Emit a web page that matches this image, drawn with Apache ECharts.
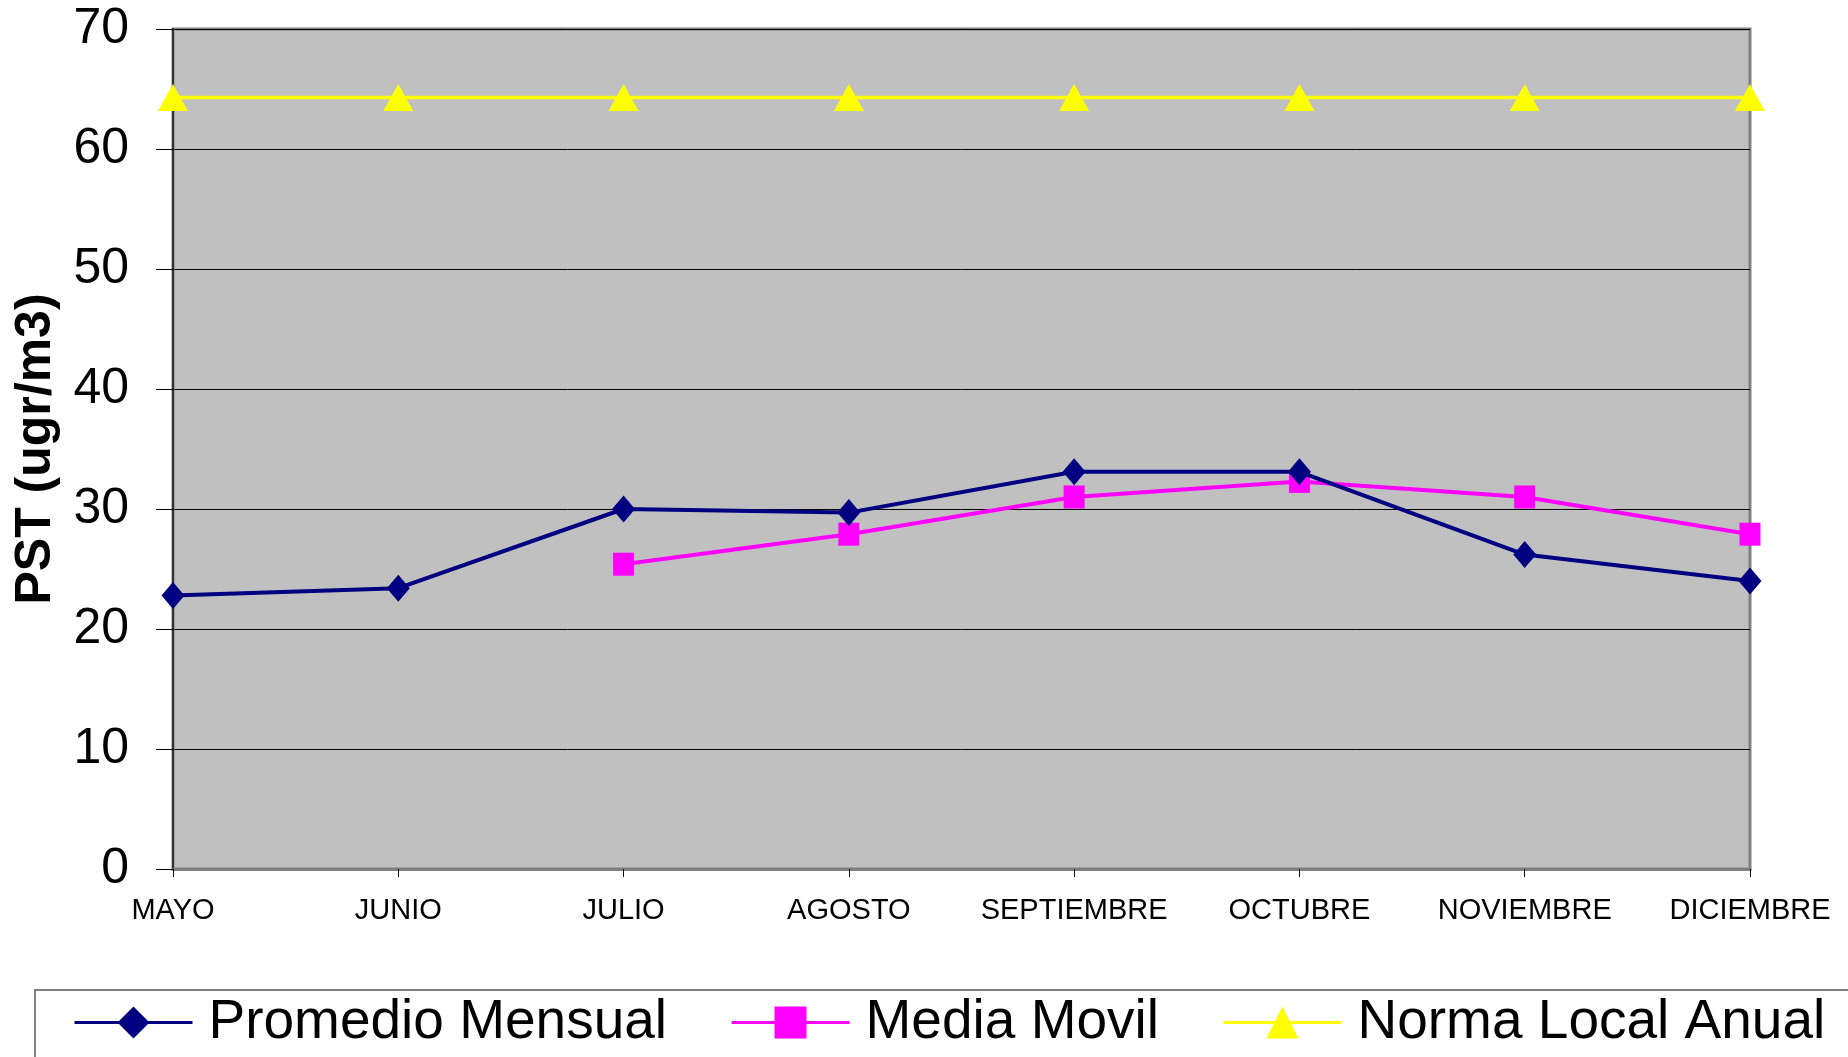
<!DOCTYPE html>
<html>
<head>
<meta charset="utf-8">
<title>PST</title>
<script src="https://cdn.jsdelivr.net/npm/echarts@6/dist/echarts.min.js"></script>
<style>
  html, body { margin: 0; padding: 0; background: #fff; }
  #chart { width: 1848px; height: 1057px; }
</style>
</head>
<body>
<div id="chart"></div>
<script>
var meses = ['MAYO', 'JUNIO', 'JULIO', 'AGOSTO', 'SEPTIEMBRE', 'OCTUBRE', 'NOVIEMBRE', 'DICIEMBRE'];
var promedioMensual = [22.8, 23.4, 30.0, 29.7, 33.1, 33.1, 26.2, 24.0];
var mediaMovil = ['-', '-', 25.4, 27.9, 31.0, 32.3, 31.0, 27.9];
var normaLocal = [64.3, 64.3, 64.3, 64.3, 64.3, 64.3, 64.3, 64.3];
var nombres = ['Promedio Mensual', 'Media Movil', 'Norma Local Anual'];

var fuente = 'Liberation Sans, Arial, sans-serif';

var option = {
  animation: false,
  textStyle: { fontFamily: fuente },
  grid: {
    left: 173,
    right: 98,
    top: 29,
    bottom: 188,
    show: true,
    backgroundColor: '#c0c0c0',
    borderColor: '#808080',
    borderWidth: 3
  },
  // leyenda abajo, el borde sigue fuera del lienzo
  legend: {
    data: nombres,
    left: 35,
    top: 990,
    width: 1800,
    padding: [5, 60, 60, 38],
    itemWidth: 118,
    itemHeight: 40,
    itemGap: 63,
    selectedMode: false,
    borderColor: '#808080',
    borderWidth: 2,
    lineStyle: { width: 3 },
    textStyle: { fontSize: 55, color: '#000', fontFamily: fuente, padding: [0, 0, 0, 11] }
  },
  xAxis: [{
    type: 'category',
    boundaryGap: false,
    data: meses,
    axisLine: { lineStyle: { color: '#808080', width: 3 } },
    axisTick: { show: true, interval: 0, length: 8, lineStyle: { color: '#000', width: 1 } },
    axisLabel: { interval: 0, hideOverlap: false, fontSize: 29, color: '#000', margin: 27, fontFamily: fuente }
  }],
  yAxis: [{
    type: 'value',
    min: 0,
    max: 70,
    interval: 10,
    name: 'PST (ugr/m3)',
    nameLocation: 'middle',
    nameRotate: 90,
    nameGap: 112,
    nameTextStyle: { fontSize: 50, fontWeight: 'bold', color: '#000', fontFamily: fuente },
    axisLine: { show: true, lineStyle: { color: '#333', width: 2 } },
    axisTick: { show: true, length: 17, lineStyle: { color: '#000', width: 1 } },
    axisLabel: { fontSize: 50, color: '#000', margin: 44, fontFamily: fuente },
    splitLine: { lineStyle: { color: '#000', width: 1 } }
  }],
  series: [
    {
      name: nombres[0],
      type: 'line',
      data: promedioMensual,
      symbol: 'diamond',
      symbolSize: [23, 27],
      color: '#000080',
      lineStyle: { width: 4, color: '#000080' },
      itemStyle: { color: '#000080' },
      z: 4
    },
    {
      name: nombres[1],
      type: 'line',
      data: mediaMovil,
      symbol: 'rect',
      symbolSize: [21, 23],
      color: '#ff00ff',
      lineStyle: { width: 4, color: '#ff00ff' },
      itemStyle: { color: '#ff00ff' },
      z: 3
    },
    {
      name: nombres[2],
      type: 'line',
      data: normaLocal,
      symbol: 'triangle',
      symbolSize: [30, 27],
      color: '#ffff00',
      lineStyle: { width: 3.5, color: '#ffff00' },
      itemStyle: { color: '#ffff00' },
      z: 2
    }
  ]
};

var myChart = echarts.init(document.getElementById('chart'));
myChart.setOption(option);
</script>
</body>
</html>
